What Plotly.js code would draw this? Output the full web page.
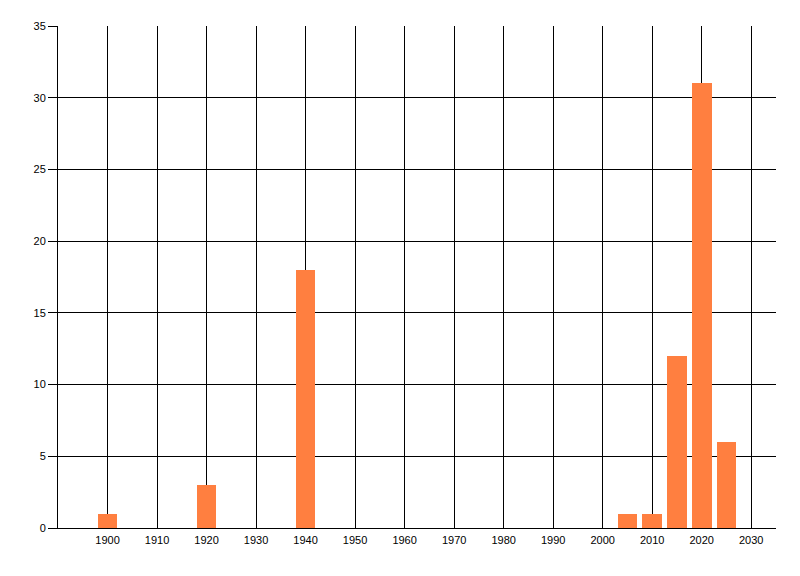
<!DOCTYPE html>
<html>
<head>
<meta charset="utf-8">
<script src="https://cdn.plot.ly/plotly-3.0.1.min.js"></script>
<style>
html,body{margin:0;padding:0;background:#fff;}
#chart{width:800px;height:576px;}
</style>
</head>
<body>
<div id="chart"></div>
<script>
var years = [1900, 1920, 1940, 2005, 2010, 2015, 2020, 2025];
var counts = [1, 3, 18, 1, 1, 12, 31, 6];
var xTicks = [1900, 1910, 1920, 1930, 1940, 1950, 1960, 1970, 1980, 1990, 2000, 2010, 2020, 2030];
var yTicks = [0, 5, 10, 15, 20, 25, 30, 35];

var trace = {
  type: 'bar',
  x: years,
  y: counts,
  width: 4,
  marker: {color: '#FF7F40', line: {width: 0}},
  hoverinfo: 'x+y'
};

var layout = {
  width: 800,
  height: 576,
  margin: {l: 58, r: 24, t: 26, b: 48},
  paper_bgcolor: '#ffffff',
  plot_bgcolor: '#ffffff',
  showlegend: false,
  font: {family: '"Liberation Sans", Arial, sans-serif', size: 11, color: '#000000'},
  xaxis: {
    range: [1890, 2035],
    tickmode: 'array',
    tickvals: xTicks,
    ticktext: xTicks.map(String),
    showgrid: true,
    gridcolor: '#000000',
    gridwidth: 1,
    zeroline: false,
    showline: true,
    linecolor: '#000000',
    linewidth: 1,
    ticks: '',
    ticklabelstandoff: 2,
    fixedrange: true
  },
  yaxis: {
    range: [0, 35],
    tickmode: 'array',
    tickvals: yTicks,
    ticktext: yTicks.map(String),
    showgrid: true,
    gridcolor: '#000000',
    gridwidth: 1,
    zeroline: false,
    showline: true,
    linecolor: '#000000',
    linewidth: 1,
    ticks: 'outside',
    ticklen: 9,
    tickcolor: '#000000',
    tickwidth: 1,
    ticklabelstandoff: 0,
    fixedrange: true
  },
  bargap: 0
};

Plotly.newPlot('chart', [trace], layout, {displayModeBar: false, staticPlot: true});
</script>
</body>
</html>
